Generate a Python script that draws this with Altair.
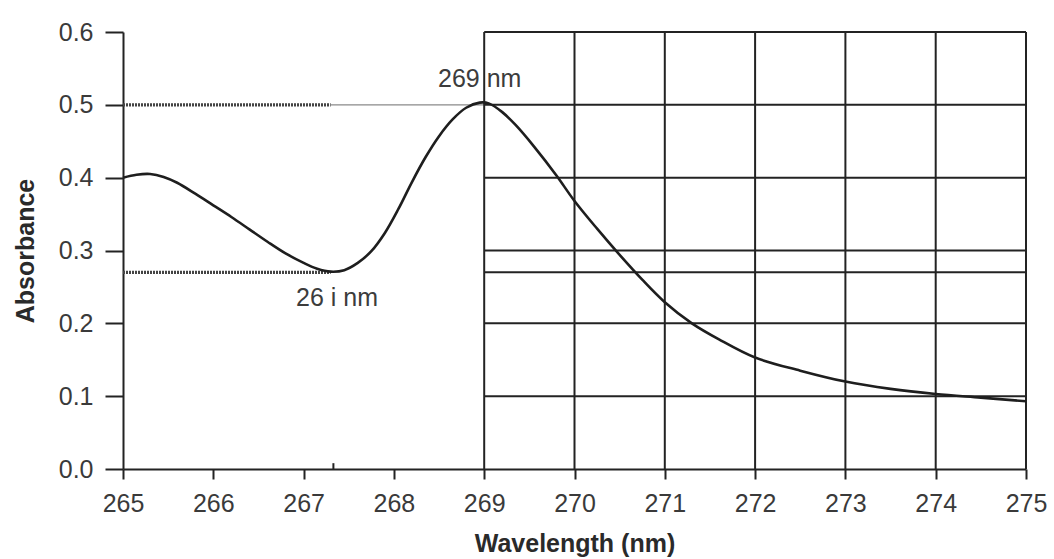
import altair as alt
import pandas as pd

# Spectrum
wavelength = [265.0, 265.15, 265.3, 265.45, 265.6, 265.8, 266.0, 266.2, 266.4, 266.6,
              266.8, 267.0, 267.15, 267.3, 267.45, 267.6, 267.75, 267.9, 268.05, 268.2,
              268.35, 268.5, 268.65, 268.8, 268.95, 269.05, 269.2, 269.35, 269.55, 269.8,
              270.0, 270.25, 270.5, 270.75, 271.0, 271.3, 271.6, 272.0, 272.5,
              273.0, 273.5, 274.0, 274.5, 275.0]
absorbance = [0.400, 0.404, 0.405, 0.401, 0.393, 0.378, 0.362, 0.346, 0.329, 0.312,
              0.296, 0.283, 0.275, 0.271, 0.273, 0.283, 0.299, 0.324, 0.357, 0.394,
              0.428, 0.457, 0.480, 0.496, 0.503, 0.502, 0.490, 0.472, 0.443, 0.403,
              0.368, 0.330, 0.294, 0.260, 0.229, 0.200, 0.178, 0.153, 0.135,
              0.120, 0.110, 0.103, 0.098, 0.093]

x_ticks = [265, 266, 267, 268, 269, 270, 271, 272, 273, 274, 275]
y_ticks = [0.0, 0.1, 0.2, 0.3, 0.4, 0.5, 0.6]

grid_x = [269, 270, 271, 272, 273, 274, 275]
grid_y = [0.1, 0.2, 0.27, 0.3, 0.4, 0.5, 0.6]

peak_wl, peak_abs = 269.0, 0.5
min_wl, min_abs = 267.3, 0.27

label_text = ["269 nm", "26 i nm"]
label_wl = [268.95, 267.37]
label_abs = [0.535, 0.235]

FONT = "Liberation Sans"
INK = "#232323"

xs = alt.Scale(domain=[265, 275], nice=False, zero=False)
ys = alt.Scale(domain=[0, 0.6], nice=False, zero=False)

xaxis = alt.Axis(values=x_ticks, format="d", grid=False, domainColor=INK, domainWidth=2,
                 tickColor=INK, tickWidth=2, tickSize=10, labelFontSize=25, labelFont=FONT,
                 labelColor="#3a3a3a", labelPadding=12, labelFlush=False,
                 titleFont=FONT, titleFontSize=25, titleFontWeight="bold",
                 titleColor="#2a2a2a", titlePadding=15)
yaxis = alt.Axis(values=y_ticks, format=".1f", grid=False, domainColor=INK, domainWidth=2,
                 tickColor=INK, tickWidth=2, tickSize=18, labelFontSize=25, labelFont=FONT,
                 labelColor="#3a3a3a", labelPadding=12, labelFlush=False,
                 titleFont=FONT, titleFontSize=25, titleFontWeight="bold",
                 titleColor="#2a2a2a", titlePadding=20)


def X(field):
    return alt.X(field, type="quantitative", scale=xs, axis=xaxis, title="Wavelength (nm)")


def Y(field):
    return alt.Y(field, type="quantitative", scale=ys, axis=yaxis, title="Absorbance")


vgrid_df = pd.DataFrame({"x": grid_x, "y": [0.0] * len(grid_x), "y2": [0.6] * len(grid_x)})
hgrid_df = pd.DataFrame({"y": grid_y, "x": [269.0] * len(grid_y), "x2": [275.0] * len(grid_y)})
dotted_df = pd.DataFrame({"y": [min_abs, peak_abs], "x": [265.0, 265.0], "x2": [min_wl, min_wl]})
thin_df = pd.DataFrame({"y": [peak_abs], "x": [min_wl], "x2": [peak_wl]})
mintick_df = pd.DataFrame({"x": [267.33], "y": [0.0], "y2": [0.008]})
curve_df = pd.DataFrame({"x": wavelength, "y": absorbance})
label_df = pd.DataFrame({"x": label_wl, "y": label_abs, "t": label_text})

vgrid = alt.Chart(vgrid_df).mark_rule(color=INK, strokeWidth=2).encode(
    x=X("x"), y=Y("y"), y2="y2")
hgrid = alt.Chart(hgrid_df).mark_rule(color=INK, strokeWidth=2).encode(
    y=Y("y"), x=X("x"), x2="x2")
dotted = alt.Chart(dotted_df).mark_rule(color="#444444", strokeWidth=3.2, strokeDash=[2, 1]).encode(
    y=Y("y"), x=X("x"), x2="x2")
thin = alt.Chart(thin_df).mark_rule(color="#8a8a8a", strokeWidth=1.3).encode(
    y=Y("y"), x=X("x"), x2="x2")
mintick = alt.Chart(mintick_df).mark_rule(color=INK, strokeWidth=2).encode(
    x=X("x"), y=Y("y"), y2="y2")
curve = alt.Chart(curve_df).mark_line(color="#1e1e1e", strokeWidth=2.6, interpolate="catmull-rom").encode(
    x=X("x"), y=Y("y"))
labels = alt.Chart(label_df).mark_text(font=FONT, fontSize=25, color="#3c3c3c",
                                       align="center", baseline="middle").encode(
    x=X("x"), y=Y("y"), text="t:N")

chart = alt.layer(dotted, thin, labels, vgrid, hgrid, mintick, curve).properties(
    width=903, height=437,
    autosize=alt.AutoSizeParams(type="none"),
    padding={"left": 123, "top": 32, "right": 28, "bottom": 90},
    background="white",
).configure_view(stroke=None)

chart.save("out.html", embed_options={"renderer": "svg", "actions": False})
